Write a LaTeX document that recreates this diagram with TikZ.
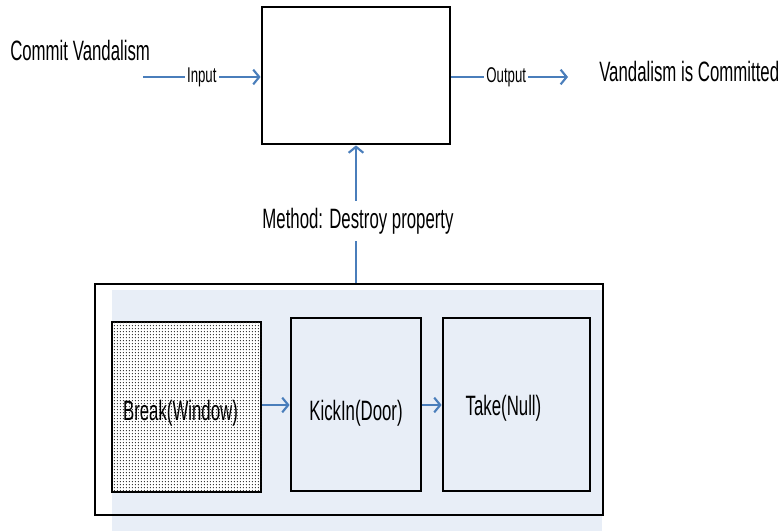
\documentclass[tikz,border=0pt]{standalone}
\usepackage{fontspec}
\newfontfamily\nar[FakeStretch=0.6]{Liberation Sans}
\newfontfamily\narsmall[FakeStretch=0.62]{Liberation Sans}
\usetikzlibrary{arrows.meta,fit,patterns}
\pgfdeclarepatternformonly{finedots}{\pgfpointorigin}{\pgfpoint{2.5pt}{2.5pt}}{\pgfpoint{2.5pt}{2.5pt}}{%
  \pgfpathellipse{\pgfpoint{1.25pt}{1.25pt}}{\pgfpoint{0.45pt}{0pt}}{\pgfpoint{0pt}{0.65pt}}\pgfusepath{fill}}
\definecolor{arrblue}{HTML}{4A7EBB}
\definecolor{panel}{HTML}{E8EEF7}
\tikzset{
  boxnode/.style={draw=black, line width=2.1pt, inner sep=0pt},
  bigtext/.style={font=\nar\fontsize{21}{24}\selectfont, inner sep=0pt},
  smalltext/.style={font=\narsmall\fontsize{16}{18}\selectfont, fill=white, inner sep=1.5pt},
  flow/.style={draw=arrblue, line width=1.7pt, -{Straight Barb[length=4.5pt,width=11pt,line width=1.6pt]}},
}
\begin{document}
\begin{tikzpicture}[x=0.75pt,y=-0.75pt]
\useasboundingbox (0,0) rectangle (781,531);
% shaded panel behind the lower group
\fill[panel] (112,290) rectangle (602,531);
% main process box
\node[boxnode, fit={(262,7)(450,144)}] (main) {};
% outer container
\node[boxnode, fit={(95,284)(603,515)}] (outer) {};
% inner step boxes
\node[boxnode, fill=white, postaction={pattern=finedots, pattern color=black!85}, fit={(112,322)(261,492)}, label={[bigtext, shift={(-6,6)}]center:Break(Window)}] (brk) {};
\node[boxnode, fit={(291,318)(421,491)}, label={[bigtext, shift={(0,9)}]center:KickIn(Door)}] (kick) {};
\node[boxnode, fit={(443,318)(590,491)}, label={[bigtext, shift={(-13,4)}]center:Take(Null)}] (take) {};
% texts
\node[bigtext, anchor=base west] (cv) at (10,61) {Commit Vandalism};
\node[bigtext, anchor=base west] (vc) at (599,82) {Vandalism is Committed};
\coordinate (inStart) at (143,77);
\coordinate (outEnd) at (568,77);
% connectors
\draw[flow] (inStart) -- (main.west |- inStart) node[smalltext, pos=0.5] {Input};
\draw[flow] (main.east |- outEnd) -- (outEnd) node[smalltext, pos=0.47] {Output};
\draw[flow] (outer.north -| 356,0) -- (main.south -| 356,0) node[bigtext, fill=white, inner sep=5pt, pos=0.45, xshift=1.5pt] {Method: Destroy property};
\draw[flow] (brk.east |- 0,405) -- (kick.west |- 0,405);
\draw[flow] (kick.east |- 0,405) -- (take.west |- 0,405);
\end{tikzpicture}
\end{document}
